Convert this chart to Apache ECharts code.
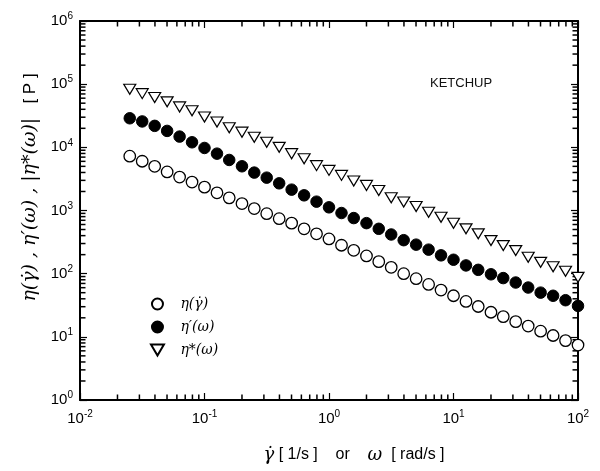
<!DOCTYPE html>
<html>
<head>
<meta charset="utf-8">
<script src="https://cdn.jsdelivr.net/npm/echarts@6/dist/echarts.min.js"></script>
<style>html,body{margin:0;padding:0;background:#fff}#c{width:600px;height:471px}</style>
</head>
<body>
<div id="c"></div>
<script>
// shear rate / frequency (same grid for all series)
const rate = [0.0251,0.0316,0.0398,0.0501,0.0631,0.0794,0.1,0.126,0.158,0.2,0.251,0.316,0.398,0.501,0.631,0.794,
  1,1.26,1.58,2.0,2.51,3.16,3.98,5.01,6.31,7.94,10,12.6,15.8,20,25.1,31.6,39.8,50.1,63.1,79.4,100];
// eta(gamma dot) [P] - open circles
const etaSteady = [7244,6026,5012,4074,3388,2818,2344,1905,1585,1288,1072,891,741,631,513,427,
  355,282,234,191,155,126,100,83.2,67.6,55.0,44.7,36.3,30.2,24.5,20.9,17.4,14.8,12.3,10.5,8.71,7.41];
// eta'(omega) [P] - filled circles
const etaDyn = [28840,25700,21880,18200,14790,12020,9772,7943,6310,5012,3981,3311,2692,2138,1738,1380,
  1122,912,759,631,513,417,339,288,240,195,166,135,115,97.7,85.1,72.4,60.3,50.1,44.7,38.0,30.9];
// |eta*(omega)| [P] - open down triangles
const etaComplex = [83180,70790,61660,52480,43650,38020,30200,25120,20420,17380,14450,12020,10000,7943,6607,5129,
  4315,3597,2924,2495,2075,1589,1365,1156,940,783,630,512,427,334,278,232,182,151,129,109,87.5];
const legendNames = ['η(γ̇)', 'η′(ω)', 'η*(ω)'];
const xMinorTicks = [0.02,0.03,0.04,0.05,0.06,0.07,0.08,0.09,0.2,0.3,0.4,0.5,0.6,0.7,0.8,0.9,
  2,3,4,5,6,7,8,9,20,30,40,50,60,70,80,90];
const yMinorTicks = [2,3,4,5,6,7,8,9,20,30,40,50,60,70,80,90,200,300,400,500,600,700,800,900,
  2000,3000,4000,5000,6000,7000,8000,9000,20000,30000,40000,50000,60000,70000,80000,90000,
  200000,300000,400000,500000,600000,700000,800000,900000];
const X_MIN = 0.01, X_MAX = 100, Y_MIN = 1, Y_MAX = 1e6;

const zip = (xs, ys) => xs.map((x, i) => [x, ys[i]]);
const supFmt = v => '{b|10}{s|' + Math.round(Math.log10(v)) + '}';
const labelRich = {
  b: {fontSize: 15, fontFamily: 'Liberation Sans, Arial', color: '#000'},
  s: {fontSize: 10, fontFamily: 'Liberation Sans, Arial', color: '#000', padding: [0, 0, 9, 0]}
};
const axisLine = {show: true, lineStyle: {color: '#000', width: 2}};
const tri = 'path://M0,0 L10,0 L5,8.5 Z';
const greek = 'DejaVu Serif, Liberation Serif';

function tickSeries(name, data, size, offset) {
  return {
    name: name, type: 'scatter', silent: true, clip: false, z: 2, data: data,
    symbol: 'rect', symbolSize: size, symbolOffset: offset,
    itemStyle: {color: '#000', opacity: 1}
  };
}

const chart = echarts.init(document.getElementById('c'), null, {renderer: 'canvas'});
chart.setOption({
  backgroundColor: '#fff',
  animation: false,
  title: {
    text: 'KETCHUP', left: 425, top: 72,
    textStyle: {fontSize: 13, fontWeight: 'normal', fontFamily: 'Liberation Sans, Arial', color: '#111'}
  },
  grid: {left: 80, right: 22, top: 21, bottom: 71},
  legend: {
    orient: 'vertical', left: 145, top: 292, itemGap: 9, itemWidth: 24, itemHeight: 11,
    data: legendNames,
    textStyle: {fontSize: 14, fontStyle: 'italic', fontFamily: greek, color: '#000', padding: [0, 0, 0, 6]}
  },
  xAxis: [{
    type: 'log', logBase: 10, min: X_MIN, max: X_MAX, interval: 1, splitNumber: 4,
    axisLine: axisLine,
    axisTick: {inside: true, length: 7, lineStyle: {color: '#000', width: 1.2}},
    axisLabel: {formatter: supFmt, rich: labelRich, margin: 9},
    splitLine: {show: false},
    name: '{g|γ̇}{t| [ 1/s ]    or    }{g|ω}{t|  [ rad/s ]}',
    nameLocation: 'middle', nameGap: 46,
    nameTextStyle: {
      padding: [0, 0, 0, 50],
      rich: {
        g: {fontSize: 18, fontStyle: 'italic', fontFamily: greek, color: '#000'},
        t: {fontSize: 16, fontFamily: 'Liberation Sans, Arial', color: '#000'}
      }
    }
  }, {
    type: 'log', logBase: 10, min: X_MIN, max: X_MAX, interval: 1, splitNumber: 4, position: 'top',
    axisLine: axisLine,
    axisTick: {inside: true, length: 7, lineStyle: {color: '#000', width: 1.2}},
    axisLabel: {show: false}, splitLine: {show: false}
  }],
  yAxis: [{
    type: 'log', logBase: 10, min: Y_MIN, max: Y_MAX, interval: 1, splitNumber: 6,
    axisLine: axisLine,
    axisTick: {inside: true, length: 7, lineStyle: {color: '#000', width: 1.2}},
    axisLabel: {formatter: supFmt, rich: labelRich, margin: 7},
    splitLine: {show: false},
    name: '{g|η(γ̇) , η′(ω) , |η*(ω)|}{t|   [ P ]}',
    nameLocation: 'middle', nameGap: 40,
    nameTextStyle: {
      padding: [0, 0, 0, 46],
      rich: {
        g: {fontSize: 19, fontStyle: 'italic', fontFamily: greek, color: '#000'},
        t: {fontSize: 17, fontFamily: 'Liberation Sans, Arial', color: '#000'}
      }
    }
  }, {
    type: 'log', logBase: 10, min: Y_MIN, max: Y_MAX, interval: 1, splitNumber: 6, position: 'right',
    axisLine: axisLine,
    axisTick: {inside: true, length: 7, lineStyle: {color: '#000', width: 1.2}},
    axisLabel: {show: false}, splitLine: {show: false}
  }],
  series: [
    tickSeries('tickB', xMinorTicks.map(v => [v, Y_MIN]), [1.5, 5], [0, -3]),
    tickSeries('tickT', xMinorTicks.map(v => [v, Y_MAX]), [1.5, 5], [0, 3]),
    tickSeries('tickL', yMinorTicks.map(v => [X_MIN, v]), [5, 1.5], [3, 0]),
    tickSeries('tickR', yMinorTicks.map(v => [X_MAX, v]), [5, 1.5], [-3, 0]),
    {
      name: legendNames[0], type: 'scatter', data: zip(rate, etaSteady), z: 3,
      symbol: 'circle', symbolSize: 11.5,
      itemStyle: {color: '#fff', borderColor: '#000', borderWidth: 1.3, opacity: 1}
    },
    {
      name: legendNames[1], type: 'scatter', data: zip(rate, etaDyn), z: 3,
      symbol: 'circle', symbolSize: 11.5,
      itemStyle: {color: '#000', borderColor: '#000', borderWidth: 1, opacity: 1}
    },
    {
      name: legendNames[2], type: 'scatter', data: zip(rate, etaComplex), z: 3,
      symbol: tri, symbolSize: [12, 10],
      itemStyle: {color: '#fff', borderColor: '#000', borderWidth: 1.2, opacity: 1}
    }
  ]
});
</script>
</body>
</html>
